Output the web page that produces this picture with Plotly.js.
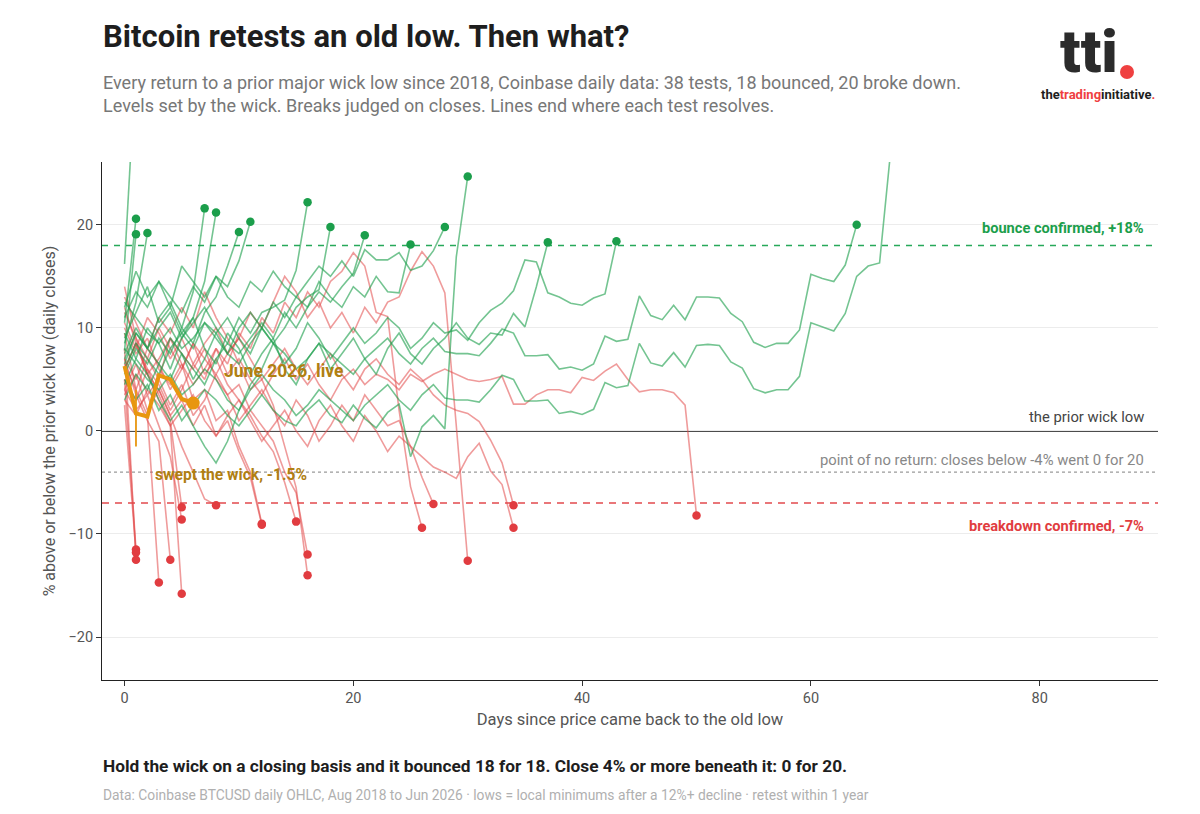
<!DOCTYPE html>
<html>
<head>
<meta charset="utf-8">
<script src="https://cdn.plot.ly/plotly-3.0.1.min.js"></script>
<style>
  html, body { margin: 0; padding: 0; background: #fff; }
  #chart { width: 1200px; height: 814px; }
</style>
</head>
<body>
<div id="chart"></div>
<script>
// ---- Data: % above/below prior wick low, daily closes, index = days since retest ----
const bounced = [
  [16.2, 36],
  [10.5, 20.6],
  [7.8, 19.1],
  [8.5, 12.5, 19.2],
  [6.5, 9.5, 8.0, 11.0, 12.5, 10.0, 13.5, 21.6],
  [9.0, 11.5, 14.0, 10.5, 12.0, 9.5, 11.0, 14.5, 21.2],
  [5.5, 8.0, 6.5, 9.0, 7.5, 10.0, 8.5, 11.5, 13.0, 16.0, 19.3],
  [12.0, 15.5, 13.0, 14.5, 12.0, 16.0, 14.5, 13.0, 15.0, 14.0, 16.5, 20.3],
  [7.0, 9.5, 8.0, 10.0, 11.5, 9.0, 10.5, 12.0, 10.0, 8.5, 11.0, 9.5, 11.5, 12.0, 12.7, 15.6, 22.2],
  [4.5, 7.0, 5.5, 3.0, 1.0, 2.5, 0.5, -1.5, -3.1, -1.0, 2.0, 4.5, 6.0, 8.5, 10.0, 12.0, 13.0, 13.7, 19.8],
  [3.0, 5.5, 4.0, 6.5, 5.0, 7.5, 6.0, 4.5, 7.0, 8.5, 7.5, 9.0, 10.5, 9.0, 11.5, 10.0, 12.0, 13.5, 12.5, 14.0, 15.3, 19.0],
  [6.0, 8.5, 7.0, 5.5, 8.0, 9.5, 8.0, 10.5, 9.0, 7.5, 10.0, 11.5, 10.0, 12.5, 11.0, 13.0, 12.0, 14.5, 13.0, 12.0, 14.0, 13.0, 15.0, 13.5, 13.4, 18.1],
  [11.0, 13.5, 12.0, 14.5, 13.0, 11.5, 14.0, 12.5, 15.0, 13.0, 12.0, 14.5, 13.5, 15.5, 14.0, 13.0, 14.5, 16.0, 15.0, 16.5, 15.0, 17.6, 16.6, 16.6, 17.3, 15.6, 16.0, 17.5, 19.8],
  [5.0, 3.0, 4.5, 2.0, 3.5, 1.0, 2.5, 4.0, 3.0, 1.5, 0.5, 2.0, 3.5, 2.0, 1.0, 0.5, 2.0, 3.0, 1.5, 0.8, 2.5, 1.2, 0.3, 1.8, 2.6, -2.5, 0.4, 1.5, 0.2, 16.9, 24.7],
  [9.5, 7.0, 10.0, 8.5, 6.0, 9.0, 11.0, 8.0, 6.5, 9.5, 8.0, 5.5, 7.5, 9.0, 6.0, 4.5, 7.0, 8.5, 6.0, 7.5, 9.0, 7.0, 5.5, 8.0, 9.5, 7.5, 6.5, 8.0, 9.0, 10.5, 9.0, 8.4, 9.5, 9.3, 11.4, 10.1, 14.0, 18.3],
  [7.5, 10.0, 8.0, 6.5, 9.0, 7.5, 5.0, 7.0, 9.5, 11.0, 9.0, 7.5, 10.0, 8.5, 6.5, 8.0, 10.5, 9.0, 7.0, 8.5, 10.0, 8.5, 9.5, 11.0, 10.0, 8.0, 9.0, 10.5, 9.5, 9.8, 8.8, 10.5, 11.7, 12.4, 13.6, 16.6, 16.4, 13.4, 13.0, 12.4, 12.2, 12.9, 13.3, 18.4],
  [12.5, 11.0, 9.5, 8.5, 10.0, 8.0, 9.0, 10.5, 9.5, 7.5, 6.5, 8.5, 10.0, 8.5, 7.5, 6.0, 7.0, 8.5, 7.5, 6.5, 5.5, 7.0, 8.0, 9.0, 7.5, 6.5, 8.0, 9.0, 7.7, 7.5, 7.5, 7.3, 8.5, 9.9, 9.5, 7.3, 7.3, 7.4,
   6.0, 6.2, 5.9, 6.5, 9.2, 8.7, 8.9, 13.1, 11.2, 10.8, 12.2, 10.8, 13.0, 13.0, 12.9, 11.4, 10.6, 8.6, 8.1, 8.5, 8.5, 9.8, 15.2, 14.8, 14.5, 16.1, 20.0],
  [8.0, 6.5, 5.0, 4.0, 5.5, 3.5, 4.5, 6.0, 5.0, 3.0, 2.0, 4.0, 5.5, 4.0, 3.0, 1.5, 2.5, 4.0, 3.0, 2.0, 1.0, 2.5, 3.5, 4.5, 3.0, 2.0, 3.5, 4.5, 3.2, 3.0,
   3.0, 2.8, 4.0, 5.4, 5.0, 2.9, 2.9, 3.0, 1.7, 1.9, 1.6, 2.1, 4.7, 4.2, 4.4, 8.5, 6.6, 6.3, 7.6, 6.2, 8.3, 8.4, 8.3, 6.7, 6.1, 4.1, 3.7, 4.0, 4.0, 5.3, 10.5, 10.1, 9.7, 11.4, 15.0, 16.0, 16.3, 27.5]
];

const brokeDown = [
  [5.0, -11.5],
  [8.0, -12.5],
  [2.5, -11.8],
  [9.5, 4.0, 1.5, -14.7],
  [7.0, 3.5, 1.0, -1.0, -12.5],
  [12.0, 8.5, 6.0, 3.5, 1.0, -7.4],
  [4.0, 2.0, 3.5, 0.5, -2.5, -8.6],
  [14.0, 9.0, 5.5, 3.0, 0.5, -15.8],
  [6.0, 8.5, 5.5, 4.0, 1.5, -1.5, -4.0, -6.6, -7.2],
  [10.0, 7.5, 9.0, 6.0, 4.5, 6.5, 3.0, 4.0, 1.0, 2.0, -1.5, -4.0, -9.0],
  [11.5, 9.0, 7.0, 10.0, 8.0, 6.0, 8.5, 5.5, 7.0, 4.5, 3.0, 1.5, -0.5, -2.0, -5.0, -8.8],
  [6.5, 4.0, 7.0, 5.0, 9.0, 7.5, 6.0, 8.0, 5.0, 3.5, 4.5, 2.0, 0.5, -1.0, -4.0, -6.0, -12.0],
  [13.0, 10.5, 8.0, 11.0, 9.5, 12.0, 10.0, 13.5, 11.0, 9.0, 6.5, 4.0, 5.0, 2.5, -1.5, -5.5, -14.0],
  [3.5, 5.5, 2.0, 4.0, 1.5, 3.0, 0.5, 2.5, -0.5, 1.0, -2.0, -4.5, -9.1],
  [5.0, 3.0, 6.0, 4.5, 2.0, 4.0, 6.5, 5.0, 8.0, 6.5, 9.5, 8.0, 11.0, 9.5, 12.5, 11.0, 13.5, 12.0, 14.5, 15.5, 17.3, 16.0, 11.5, 11.1, 2.0, -5.4, -9.4],
  [4.0, 6.5, 3.5, 5.0, 2.5, 4.5, 1.5, 3.0, 5.5, 3.5, 1.0, 2.5, 4.0, 2.0, 0.5, 3.0, 1.5, -1.0, 0.5, 2.5, 1.0, 3.5, 2.0, 0.5, 1.0, -1.5, -4.5, -7.1],
  [10.5, 8.0, 11.0, 9.5, 7.0, 9.0, 6.5, 8.5, 10.0, 7.5, 9.0, 11.5, 10.0, 12.5, 15.0, 13.5, 11.0, 12.5, 10.0, 11.5, 9.5, 12.0, 10.5, 12.5, 13.0, 15.5, 17.4, 16.0, 13.4, 0.5, -12.6],
  [7.0, 5.0, 8.0, 6.5, 4.0, 6.0, 8.5, 7.0, 5.5, 7.5, 9.0, 7.0, 5.0, 6.5, 8.0, 6.0, 4.5, 6.0, 7.5, 5.5, 4.0, 6.0, 7.0, 5.5, 4.5, 6.0, 5.0, 3.5, 2.5, 2.0, 1.7, 0.9, -0.9, -3.1, -7.2],
  [3.0, 1.5, 4.0, 2.5, 0.5, 2.0, 3.5, 1.0, -0.5, 1.5, 3.0, 1.0, -1.0, 0.5, 2.0, 0.0, -1.5, 1.0, 2.5, 0.5, -1.0, 1.5, 0.0, -2.0, -0.5, -1.5, -2.5, -3.5, -4.0, -4.6, -2.5, -1.2, -3.9, -5.2, -9.4],
  [6.0, 8.5, 5.5, 7.0, 9.0, 6.5, 4.5, 6.0, 8.0, 5.5, 7.0, 5.0, 3.5, 5.5, 7.0, 5.0, 6.5, 4.5, 3.0, 5.0, 6.0, 4.5, 5.5, 5.0, 4.0, 5.5, 4.8, 5.5, 6.0, 5.5,
   5.0, 4.8, 5.0, 5.3, 2.6, 2.6, 3.5, 4.0, 4.0, 3.7, 5.2, 4.9, 5.8, 6.5, 5.0, 3.8, 4.0, 4.0, 3.7, 2.5, -8.2]
];

const liveDays = [0, 1, 2, 3, 4, 5, 6];
const liveValues = [6.3, 1.7, 1.4, 5.4, 5.0, 3.1, 2.7];
const liveWickDay = 1;
const liveWickRange = [4.0, -1.5];

const thresholds = { bounce: 18, wick: 0, noReturn: -4, breakdown: -7 };
const xTicks = [0, 20, 40, 60, 80];
const yTicks = [-20, -10, 0, 10, 20];

// ---- Styles ----
const GREEN_LINE = 'rgba(30,160,78,0.62)';
const GREEN_DOT = '#1b9e4b';
const RED_LINE = 'rgba(226,72,72,0.55)';
const RED_DOT = '#e13c40';
const ORANGE = '#e8960f';
const GOLD = '#b07f12';
const FONT = 'Roboto, "Noto Sans", sans-serif';

const traces = [];
function lineTrace(vals, color) {
  return { x: vals.map((_, i) => i), y: vals, mode: 'lines', type: 'scatter',
    line: { color: color, width: 1.6 }, hoverinfo: 'skip', showlegend: false };
}
brokeDown.forEach(v => traces.push(lineTrace(v, RED_LINE)));
bounced.forEach(v => traces.push(lineTrace(v, GREEN_LINE)));

traces.push({ x: brokeDown.map(v => v.length - 1), y: brokeDown.map(v => v[v.length - 1]),
  mode: 'markers', type: 'scatter', marker: { color: RED_DOT, size: 8.5 }, showlegend: false, hoverinfo: 'skip' });
traces.push({ x: bounced.map(v => v.length - 1), y: bounced.map(v => v[v.length - 1]),
  mode: 'markers', type: 'scatter', marker: { color: GREEN_DOT, size: 8.5 }, showlegend: false, hoverinfo: 'skip' });

traces.push({ x: [liveWickDay, liveWickDay], y: liveWickRange, mode: 'lines', type: 'scatter',
  line: { color: ORANGE, width: 1.8 }, showlegend: false, hoverinfo: 'skip' });
traces.push({ x: liveDays, y: liveValues, mode: 'lines', type: 'scatter',
  line: { color: ORANGE, width: 4 }, showlegend: false, hoverinfo: 'skip' });
traces.push({ x: [liveDays[liveDays.length - 1]], y: [liveValues[liveValues.length - 1]], mode: 'markers', type: 'scatter',
  marker: { color: ORANGE, size: 13 }, showlegend: false, hoverinfo: 'skip' });

const hline = (y, color, dash, width) => ({ type: 'line', xref: 'paper', x0: 0, x1: 1, yref: 'y', y0: y, y1: y,
  line: { color: color, dash: dash, width: width }, layer: 'below' });

const layout = {
  width: 1200, height: 814,
  paper_bgcolor: '#ffffff', plot_bgcolor: '#ffffff',
  margin: { l: 102, r: 42, t: 162, b: 134 },
  font: { family: FONT, color: '#444' },
  title: { text: 'Bitcoin retests an old low. Then what?', xref: 'container', yref: 'container',
    x: 103 / 1200, xanchor: 'left', y: 1 - 36 / 814, yanchor: 'middle',
    font: { family: FONT, size: 31, color: '#1e1e1e', weight: 700 } },
  xaxis: {
    range: [-1.97, 90.34], tickvals: xTicks, ticks: 'outside', ticklen: 5, tickcolor: '#333',
    showline: true, linecolor: '#222', linewidth: 1, showgrid: false, zeroline: false,
    tickfont: { size: 14.5, color: '#555' },
    title: { text: 'Days since price came back to the old low', font: { size: 16.5, color: '#555' }, standoff: 7 }
  },
  yaxis: {
    range: [-24.17, 26.1], tickvals: yTicks, ticks: 'outside', ticklen: 5, tickcolor: '#333',
    showline: true, linecolor: '#222', linewidth: 1, showgrid: true, gridcolor: '#ececec', gridwidth: 1, zeroline: false,
    tickfont: { size: 14.5, color: '#555' },
    title: { text: '% above or below the prior wick low (daily closes)', font: { size: 16, color: '#555' }, standoff: 8 }
  },
  shapes: [
    hline(thresholds.bounce, '#27a95a', '6px,6px', 1.4),
    hline(thresholds.noReturn, '#9a9a9a', 'dot', 1.3),
    hline(thresholds.breakdown, '#e24a4e', '7px,6px', 1.4),
    hline(thresholds.wick, '#111111', 'solid', 1.8),
    { type: 'circle', xref: 'paper', yref: 'paper',
      x0: (1120 - 102) / 1056, x1: (1134 - 102) / 1056, y0: (680 - 79) / 518, y1: (680 - 65) / 518,
      fillcolor: '#ef4040', line: { width: 0 } }
  ],
  annotations: [
    { xref: 'paper', yref: 'paper', x: -0.001, y: (680 - 94.5) / 518, xanchor: 'left', yanchor: 'middle', align: 'left', showarrow: false,
      text: 'Every return to a prior major wick low since 2018, Coinbase daily data: 38 tests, 18 bounced, 20 broke down.<br>Levels set by the wick. Breaks judged on closes. Lines end where each test resolves.',
      font: { size: 18, color: '#777' } },
    { xref: 'paper', yref: 'paper', x: -0.001, y: (680 - 766) / 518, xanchor: 'left', yanchor: 'middle', showarrow: false,
      text: '<b>Hold the wick on a closing basis and it bounced 18 for 18. Close 4% or more beneath it: 0 for 20.</b>',
      font: { size: 17.3, color: '#1e1e1e' } },
    { xref: 'paper', yref: 'paper', x: -0.001, y: (680 - 795) / 518, xanchor: 'left', yanchor: 'middle', showarrow: false,
      text: 'Data: Coinbase BTCUSD daily OHLC, Aug 2018 to Jun 2026 · lows = local minimums after a 12%+ decline · retest within 1 year',
      font: { size: 13.8, color: '#b0b0b0' } },
    // threshold labels
    { x: 89.3, y: 19.7, xanchor: 'right', yanchor: 'middle', showarrow: false,
      text: '<b>bounce confirmed, +18%</b>', font: { size: 14.6, color: '#1b9e4b' } },
    { x: 89.3, y: 1.36, xanchor: 'right', yanchor: 'middle', showarrow: false,
      text: 'the prior wick low', font: { size: 14.8, color: '#444' } },
    { x: 89.3, y: -2.8, xanchor: 'right', yanchor: 'middle', showarrow: false,
      text: 'point of no return: closes below -4% went 0 for 20', font: { size: 14.8, color: '#888' } },
    { x: 89.3, y: -9.2, xanchor: 'right', yanchor: 'middle', showarrow: false,
      text: '<b>breakdown confirmed, -7%</b>', font: { size: 14.6, color: '#e13c40' } },
    // live annotations
    { x: 8.5, y: 5.8, xanchor: 'left', yanchor: 'middle', showarrow: false,
      text: '<b>June 2026, live</b>', font: { size: 17.5, color: GOLD } },
    { x: 2.5, y: -4.3, xanchor: 'left', yanchor: 'middle', showarrow: false,
      text: '<b>swept the wick, -1.5%</b>', font: { size: 15.6, color: GOLD } },
    // logo
    { xref: 'paper', yref: 'paper', x: (1089 - 102) / 1056, y: (680 - 52) / 518, xanchor: 'center', yanchor: 'middle', showarrow: false,
      text: 'tti', font: { family: 'Roboto, sans-serif', size: 60, color: '#2b2b2b', weight: 900 } },
    { xref: 'paper', yref: 'paper', x: (1098 - 102) / 1056, y: (680 - 95) / 518, xanchor: 'center', yanchor: 'middle', showarrow: false,
      text: '<b>the<span style="color:#ef4040">trading</span>initiative<span style="color:#ef4040">.</span></b>',
      font: { family: 'Roboto, sans-serif', size: 13, color: '#1e1e1e' } }
  ]
};

Plotly.newPlot('chart', traces, layout, { displayModeBar: false, staticPlot: true });
</script>
</body>
</html>
